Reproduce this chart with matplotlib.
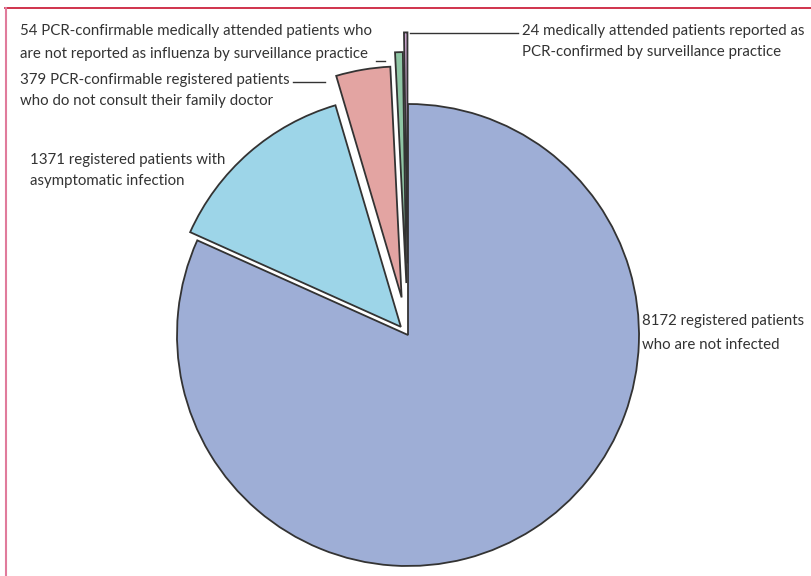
import matplotlib.pyplot as plt
from matplotlib.lines import Line2D

# slices, counter-clockwise from 12 o'clock
values = [24, 54, 379, 1371, 8172]
labels = [
    ['24 medically attended patients reported as', 'PCR-confirmed by surveillance practice'],
    ['54 PCR-confirmable medically attended patients who', 'are not reported as influenza by surveillance practice'],
    ['379 PCR-confirmable registered patients', 'who do not consult their family doctor'],
    ['1371 registered patients with', 'asymptomatic infection'],
    ['8172 registered patients', 'who are not infected'],
]
colors = ['#c9a3cc', '#8fc6a5', '#e3a4a2', '#9dd5e8', '#9eaed6']
explode = [0.31, 0.225, 0.165, 0.047, 0.0]

W, H = 812, 576
CX, CY, R = 408, 335, 231

plt.rcParams['font.family'] = ['Lato', 'DejaVu Sans']
fig = plt.figure(figsize=(W / 100, H / 100), dpi=100)
ax = fig.add_axes([0, 0, 1, 1])
ax.pie(values, startangle=90, counterclock=True, explode=explode, colors=colors,
       radius=1, center=(0, 0),
       wedgeprops=dict(edgecolor='#333333', linewidth=1.3, joinstyle='miter'))
ax.set_xlim((0 - CX) / R, (W - CX) / R)
ax.set_ylim((CY - H) / R, (CY - 0) / R)
ax.set_aspect('equal')
ax.axis('off')


def px(x, y):
    return x / W, 1 - y / H


# label text (left x, centre y of each line)
text_pos = [(522, [31, 52]), (20, [31, 54]), (20, [80, 101]), (30, [160, 181]), (642, [321, 345])]
for lines, (x, ys) in zip(labels, text_pos):
    for line, y in zip(lines, ys):
        fig.text(*px(x, y), line, ha='left', va='center', fontsize=10.8, color='#333333')

# leader lines
leaders = [((410, 518), 33), ((376, 385), 61), ((293, 325), 82)]
for (x0, x1), y in leaders:
    a, b = px(x0, y), px(x1, y)
    fig.add_artist(Line2D([a[0], b[0]], [a[1], b[1]], color='#333333', linewidth=1.0))

# frame: dark red top rule, pink left rule
fig.add_artist(Line2D([5 / W, 1], [1 - 8 / H, 1 - 8 / H], color='#c8102e', linewidth=1.2))
fig.add_artist(Line2D([5.5 / W, 5.5 / W], [0, 1 - 8 / H], color='#e07b9c', linewidth=1.5))

fig.savefig('out.png', dpi=100)
